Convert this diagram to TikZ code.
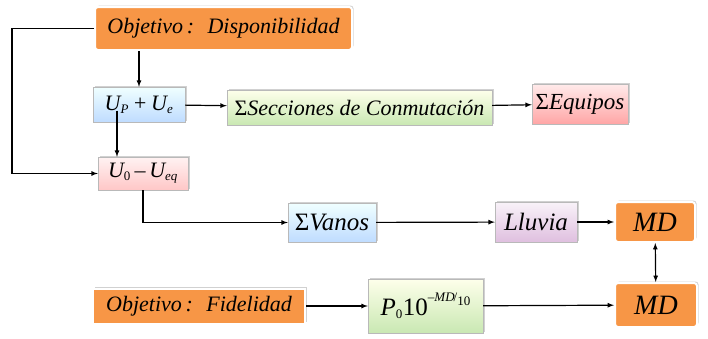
\documentclass[tikz,border=0pt]{standalone}
\usepackage{fontspec}
\setmainfont{Liberation Serif}
\definecolor{naranja}{HTML}{F79646}
\newcommand{\chico}{\fontsize{13}{13}\selectfont}
\begin{document}
\begin{tikzpicture}[x=1pt,y=-1pt]
    \tikzstyle{caja}=[draw=gray!55, inner sep=2pt, font=\rmfamily\itshape\fontsize{22}{24}\selectfont,
        preaction={fill=black!18, transform canvas={shift={(1.5pt,1.5pt)}}}]
    \tikzstyle{azul}=[caja, top color=cyan!6, bottom color=cyan!45!blue!25]
    \tikzstyle{verde}=[caja, top color=green!6!yellow!8, bottom color=green!40!olive!30]
    \tikzstyle{rosa}=[caja, top color=red!8, bottom color=red!35]
    \tikzstyle{lila}=[caja, top color=violet!5, bottom color=violet!25]
    \tikzstyle{naranjo}=[caja, fill=naranja, draw=white, line width=2pt, rounded corners=3pt]
    \tikzstyle{flecha}=[-latex, line width=1.2pt]
    \useasboundingbox (0,0) rectangle (708,338);
    % primera fila
    \node[naranjo, minimum width=257, minimum height=43] (objd) at (223.5,28.5) {Objetivo\,:\; Disponibilidad};
    \node[azul, minimum width=92, minimum height=35] (up) at (139,104.5) {U\textsubscript{\chico P}\,+\,U\textsubscript{\chico e}};
    \node[verde, minimum width=265, minimum height=35] (sec) at (359.5,107.5) {{\upshape Σ}Secciones de Conmutación};
    \node[rosa, minimum width=96, minimum height=40, font=\rmfamily\itshape\fontsize{23}{24}\selectfont] (equ) at (580,104) {{\upshape Σ}Equipos};
    \node[rosa, top color=red!5, bottom color=red!22, minimum width=90, minimum height=33] (u0) at (143,173.5) {U\textsubscript{\upshape\chico 0}\,\textendash\,U\textsubscript{\chico eq}};
    % segunda fila
    \node[azul, minimum width=88, minimum height=39, font=\rmfamily\itshape\fontsize{25}{26}\selectfont] (van) at (332,222.5) {{\upshape Σ}Vanos};
    \node[lila, minimum width=82, minimum height=40, font=\rmfamily\itshape\fontsize{25}{26}\selectfont] (llu) at (536,222) {Lluvia};
    \node[naranjo, minimum width=80, minimum height=40, font=\rmfamily\itshape\fontsize{28}{30}\selectfont] (md1) at (655,222) {MD};
    % tercera fila
    \node[naranjo, rounded corners=0pt, minimum width=212, minimum height=35] (objf) at (199,306) {Objetivo\,:\; Fidelidad};
    \node[verde, minimum width=115, minimum height=54, font=\rmfamily\fontsize{25}{26}\selectfont] (p0) at (425.5,306)
        {\textit{P}\textsubscript{\chico 0}10\raisebox{1.2ex}{\chico\textendash\textit{MD}\kern-1pt/\raisebox{-0.7ex}{10}}};
    \node[naranjo, minimum width=82, minimum height=44, font=\rmfamily\itshape\fontsize{28}{30}\selectfont] (md2) at (656,305) {MD};
    % conexiones
    \draw[flecha] (up.north |- objd.south) -- (up.north);
    \draw[flecha] (objd.west) -- ++(-82,0) |- (u0.west);
    \draw[flecha] (up) -- (sec);
    \draw[flecha] ([xshift=-22pt,yshift=-6pt]up.center) -- ([xshift=-22pt]up.south |- u0.north);
    \draw[flecha] (sec) -- (equ);
    \draw[flecha] (u0.south) |- (van.west);
    \draw[flecha] (van) -- (llu);
    \draw[flecha] (llu) -- (md1);
    \draw[flecha, latex-latex] (md1) -- (md2);
    \draw[flecha] (objf) -- (p0);
    \draw[flecha] (p0) -- (md2);
\end{tikzpicture}
\end{document}
